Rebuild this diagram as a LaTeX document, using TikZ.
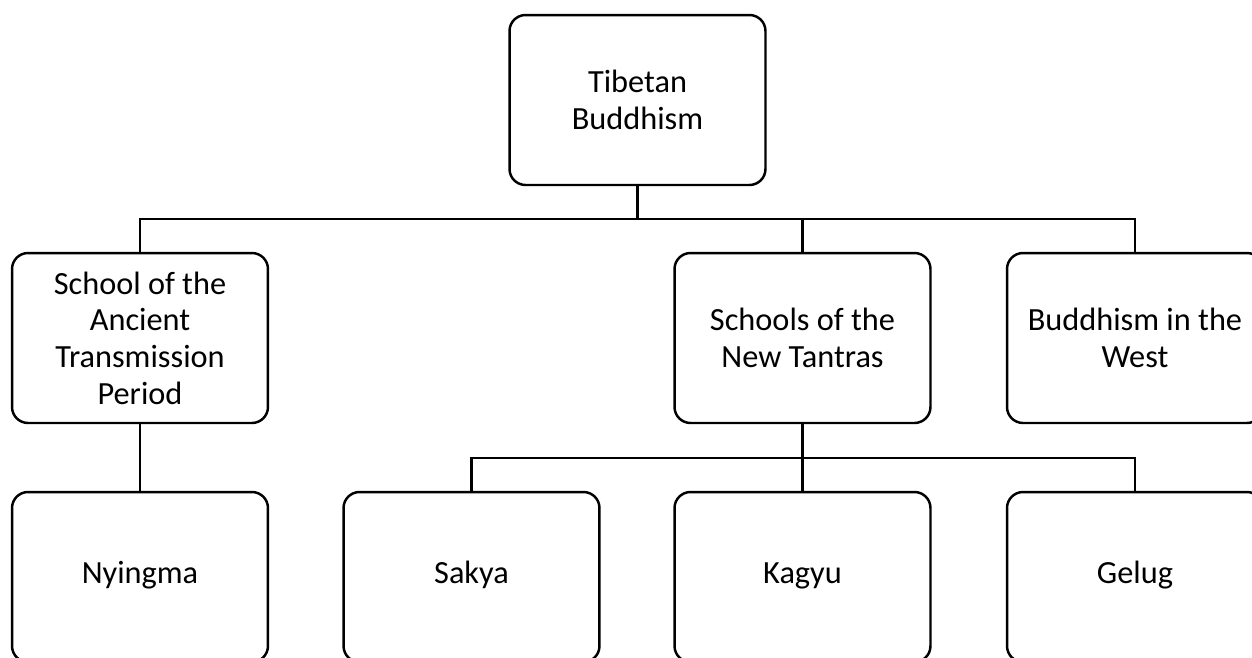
\documentclass[tikz,border=0pt]{standalone}
\usepackage{fontspec}
\setmainfont{Carlito}
\begin{document}
\begin{tikzpicture}[x=0.02cm,y=-0.02cm,
        branch/.style={draw=black,rectangle,rounded corners=0.32cm,line width=1.4pt,minimum width=5.12cm,minimum height=3.4cm,align=center,font=\fontsize{18.4}{20.9}\selectfont},
        leaf/.style={branch,text height=0.9em,text depth=0.12em},
        link/.style={draw=black,line width=1.4pt}
      ]
      \clip (0,0) rectangle (1252,657);
      \node[branch] (tibet) at (637.5,100) {Tibetan\\Buddhism};
      \node[branch] (ancient) at (140,338) {School of the\\Ancient\\Transmission\\Period};
      \node[branch] (tantras) at (802.5,338) {Schools of the\\New Tantras};
      \node[branch] (west) at (1135,338) {Buddhism in the\\West};
      \node[leaf] (nyingma) at (140,577) {Nyingma};
      \node[leaf] (sakya) at (471.5,577) {Sakya};
      \node[leaf] (kagyu) at (802.5,577) {Kagyu};
      \node[leaf] (gelug) at (1135,577) {Gelug};
      \coordinate (busa) at (0,219);
      \coordinate (busb) at (0,458);
      \draw[link] (tibet.south) -- (tibet.south |- busa);
      \draw[link] (ancient.north) |- (west.north |- busa) -- (west.north);
      \draw[link] (tantras.north) -- (tantras.north |- busa);
      \draw[link] (ancient.south) -- (nyingma.north);
      \draw[link] (tantras.south) -- (kagyu.north);
      \draw[link] (sakya.north) |- (gelug.north |- busb) -- (gelug.north);
    \end{tikzpicture}
\end{document}
